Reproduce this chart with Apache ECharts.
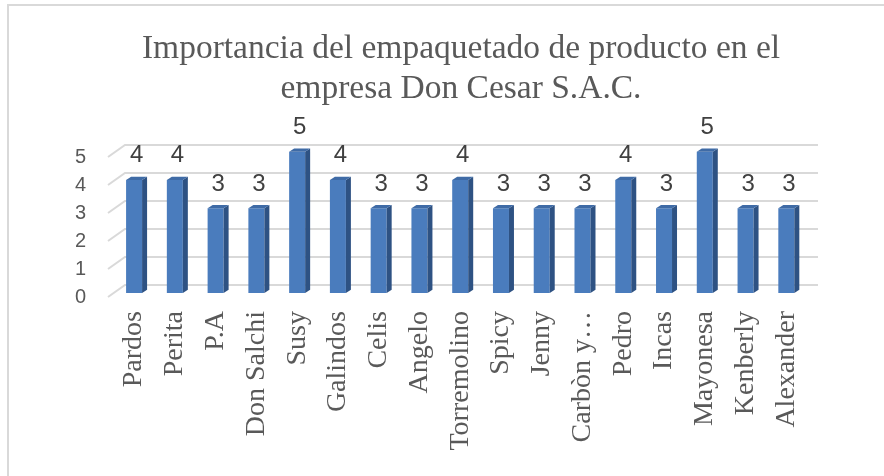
<!DOCTYPE html>
<html>
<head>
<meta charset="utf-8">
<style>
  html, body { margin: 0; padding: 0; background: #fff; }
  #chart { width: 884px; height: 476px; }
</style>
<script src="https://cdn.jsdelivr.net/npm/echarts@6/dist/echarts.min.js"></script>
</head>
<body>
<div id="chart"></div>
<script>
// ---- data ----
const categories = ['Pardos', 'Perita', 'P.A', 'Don Salchi', 'Susy', 'Galindos', 'Celis', 'Angelo',
  'Torremolino', 'Spicy', 'Jenny', 'Carbòn y…', 'Pedro', 'Incas', 'Mayonesa', 'Kenberly', 'Alexander'];
const values = [4, 4, 3, 3, 5, 4, 3, 3, 4, 3, 3, 3, 4, 3, 5, 3, 3];
const yTicks = [0, 1, 2, 3, 4, 5];
const titleText = 'Importancia del empaquetado de producto en el\nempresa Don Cesar S.A.C.';

// ---- styling ----
const GRID_COLOR = '#d9d9d9';
const TEXT_COLOR = '#595959';
const BACK_DX = 17, BACK_DY = -12;   // back wall offset from front plane
const BAR_DX = 5, BAR_DY = -3.3;     // bar depth
const FRONT = '#4a7cbd', SIDE = '#2e5283', TOP = '#3f6ba6';

const chart = echarts.init(document.getElementById('chart'), null, { renderer: 'canvas' });

const option = {
  backgroundColor: '#ffffff',
  animation: false,
  title: {
    text: titleText,
    left: 456,
    top: 24,
    textAlign: 'center',
    textStyle: {
      fontFamily: 'Liberation Serif',
      fontSize: 33.5,
      fontWeight: 'normal',
      color: TEXT_COLOR,
      lineHeight: 40
    }
  },
  graphic: [{
    type: 'rect',
    shape: { x: 8, y: 5, width: 900, height: 500 },
    style: { fill: 'none', stroke: GRID_COLOR, lineWidth: 2 },
    silent: true,
    z: -10
  }],
  grid: [
    { left: 108, width: 693, top: 157, height: 140 },       // front plane
    { left: 113.7, width: 693, top: 151.75, height: 141.25 } // bar plane
  ],
  xAxis: [
    { type: 'category', gridIndex: 0, data: categories, show: false },
    {
      type: 'category', gridIndex: 1, data: categories,
      axisLine: { show: false }, axisTick: { show: false },
      axisLabel: {
        rotate: 90, interval: 0, margin: 18,
        fontFamily: 'Liberation Serif', fontSize: 28, color: TEXT_COLOR
      }
    }
  ],
  yAxis: [
    {
      type: 'value', gridIndex: 0, min: 0, max: 5, interval: 1,
      axisLine: { show: false }, axisTick: { show: false }, splitLine: { show: false },
      axisLabel: {
        margin: 22, fontFamily: 'Liberation Sans', fontSize: 20, color: TEXT_COLOR
      }
    },
    { type: 'value', gridIndex: 1, min: 0, max: 5, interval: 1, show: false }
  ],
  series: [
    {
      type: 'custom',
      name: 'grid',
      xAxisIndex: 0, yAxisIndex: 0,
      data: yTicks.map(v => [0, v]),
      silent: true,
      z: 1,
      renderItem: function (params, api) {
        const cs = params.coordSys;
        const y = api.coord([0, api.value(1)])[1];
        const l = cs.x, r = cs.x + cs.width;
        return {
          type: 'polyline',
          shape: { points: [[l, y], [l + BACK_DX, y + BACK_DY], [r + BACK_DX, y + BACK_DY]] },
          style: { stroke: GRID_COLOR, lineWidth: 2, fill: 'none' }
        };
      }
    },
    {
      type: 'custom',
      name: 'bars',
      xAxisIndex: 1, yAxisIndex: 1,
      data: values.map((v, i) => [i, v]),
      z: 5,
      renderItem: function (params, api) {
        const i = api.value(0), v = api.value(1);
        const p0 = api.coord([i, 0]);
        const p1 = api.coord([i, v]);
        const w = 16;
        const xl = p0[0] - w / 2, xr = p0[0] + w / 2;
        const yb = p0[1], yt = p1[1];
        return {
          type: 'group',
          children: [
            { type: 'rect', shape: { x: xl, y: yt, width: w, height: yb - yt },
              style: { fill: FRONT } },
            { type: 'polygon', shape: { points: [[xr, yt], [xr + BAR_DX, yt + BAR_DY], [xr + BAR_DX, yb + BAR_DY], [xr, yb]] },
              style: { fill: SIDE } },
            { type: 'polygon', shape: { points: [[xl, yt], [xl + BAR_DX, yt + BAR_DY], [xr + BAR_DX, yt + BAR_DY], [xr, yt]] },
              style: { fill: TOP } },
            { type: 'text',
              style: {
                text: String(v), x: p0[0] + BAR_DX / 2, y: yt + BAR_DY - 21,
                align: 'center', verticalAlign: 'middle',
                fontFamily: 'Liberation Sans', fontSize: 24, fill: '#404040'
              } }
          ]
        };
      }
    }
  ]
};

chart.setOption(option);
</script>
</body>
</html>
